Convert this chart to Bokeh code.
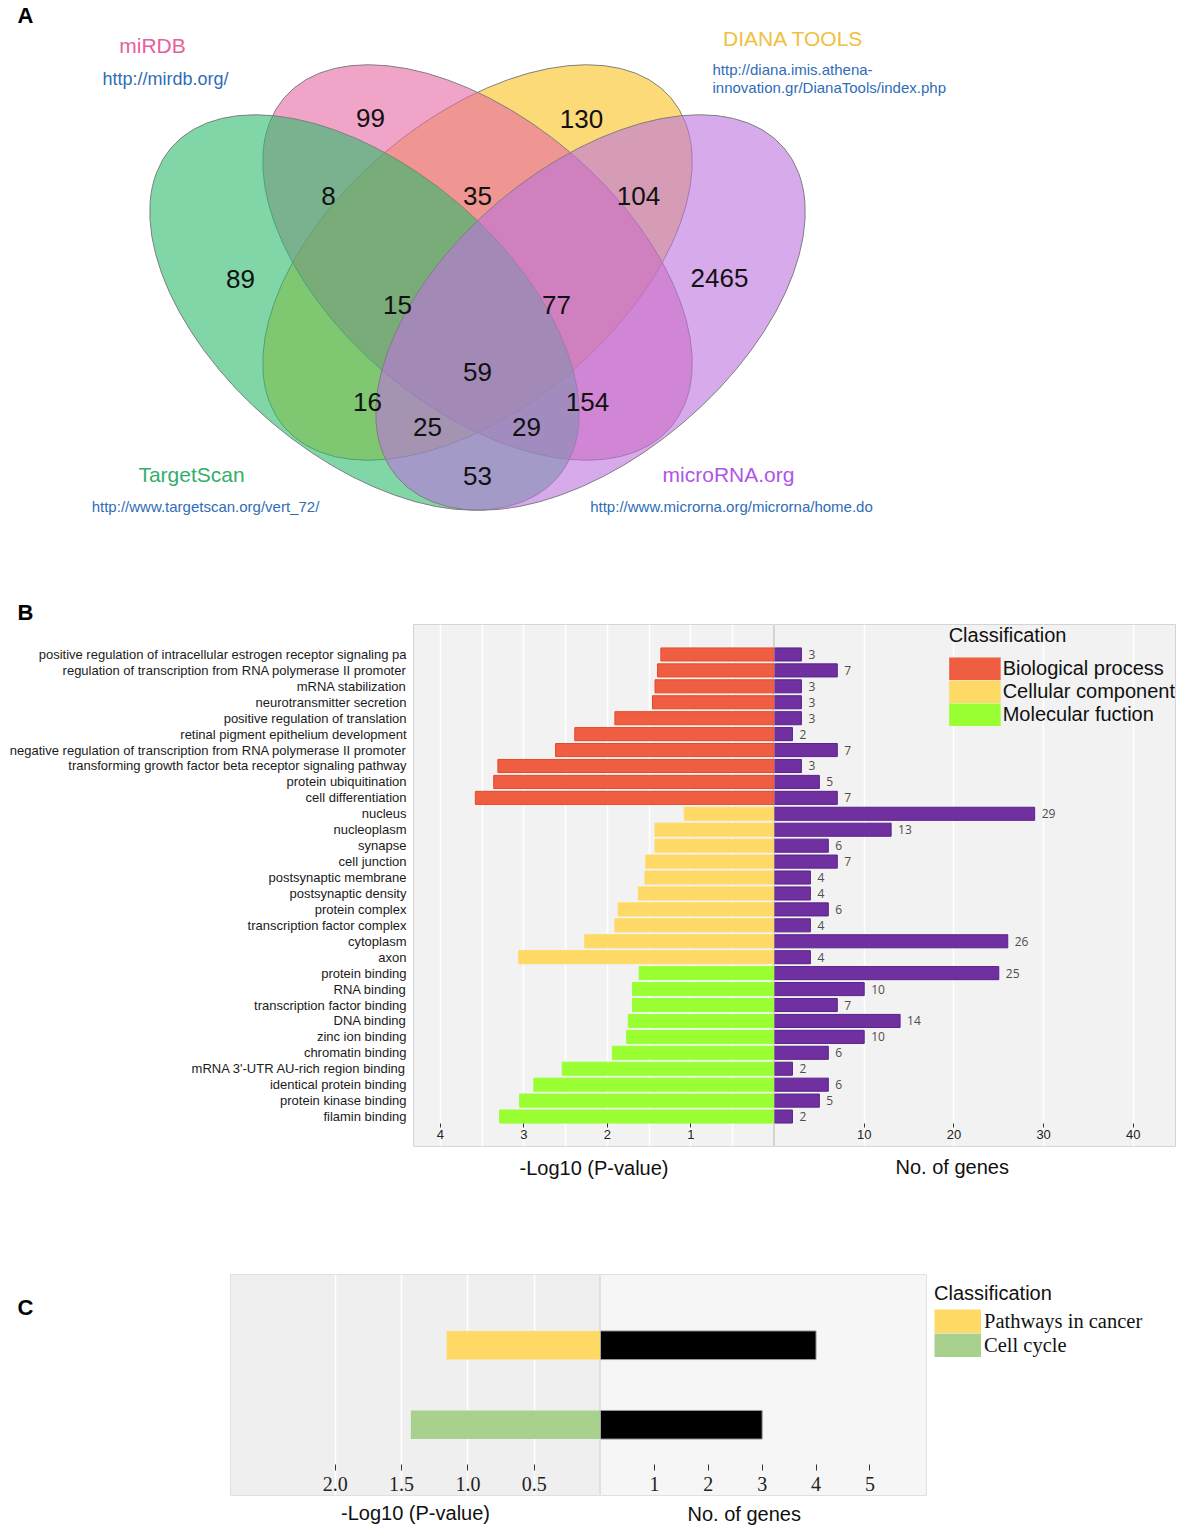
from bokeh.plotting import figure
from bokeh.models import (Range1d, FactorRange, ColumnDataSource, FixedTicker,
                          Legend, LegendItem, NumeralTickFormatter, LinearAxis,
                          CDSView, GroupFilter, Title)
from bokeh.layouts import column, row
from bokeh.embed import file_html
from bokeh.resources import INLINE
from bokeh.core.properties import value

SANS = "Liberation Sans"
SERIF = "Liberation Serif"

# ======================= DATA =======================
# Panel A - Venn diagram of predicted targets
venn_sets = ["TargetScan", "miRDB", "DIANA TOOLS", "microRNA.org"]
venn_urls = ["http://www.targetscan.org/vert_72/", "http://mirdb.org/",
             "http://diana.imis.athena-", "http://www.microrna.org/microrna/home.do"]
diana_url_line2 = "innovation.gr/DianaTools/index.php"
venn_region_names = ["TS", "miRDB", "DIANA", "microRNA", "TS&miRDB", "miRDB&DIANA",
                     "DIANA&microRNA", "TS&miRDB&DIANA", "miRDB&DIANA&microRNA", "all",
                     "TS&DIANA", "miRDB&microRNA", "TS&DIANA&microRNA",
                     "TS&miRDB&microRNA", "TS&microRNA"]
venn_region_counts = [89, 99, 130, 2465, 8, 35, 104, 15, 77, 59, 16, 154, 25, 29, 53]

# Panel B - GO enrichment
go_terms = [
    "positive regulation of intracellular estrogen receptor signaling pa",
    "regulation of transcription from RNA polymerase II promoter",
    "mRNA stabilization",
    "neurotransmitter secretion",
    "positive regulation of translation",
    "retinal pigment epithelium development",
    "negative regulation of transcription from RNA polymerase II promoter",
    "transforming growth factor beta receptor signaling pathway",
    "protein ubiquitination",
    "cell differentiation",
    "nucleus",
    "nucleoplasm",
    "synapse",
    "cell junction",
    "postsynaptic membrane",
    "postsynaptic density",
    "protein complex",
    "transcription factor complex",
    "cytoplasm",
    "axon",
    "protein binding",
    "RNA binding",
    "transcription factor binding",
    "DNA binding",
    "zinc ion binding",
    "chromatin binding",
    "mRNA 3'-UTR AU-rich region binding",
    "identical protein binding",
    "protein kinase binding",
    "filamin binding",
]
BP, CC, MF = "Biological process", "Cellular component", "Molecular fuction"
go_class = [BP, BP, BP, BP, BP, BP, BP, BP, BP, BP,
            CC, CC, CC, CC, CC, CC, CC, CC, CC, CC,
            MF, MF, MF, MF, MF, MF, MF, MF, MF, MF]
go_neglog10p = [1.36, 1.40, 1.43, 1.46, 1.91, 2.39, 2.62, 3.31, 3.36, 3.58,
                1.08, 1.43, 1.43, 1.54, 1.55, 1.63, 1.87, 1.91, 2.27, 3.06,
                1.62, 1.70, 1.70, 1.75, 1.77, 1.94, 2.54, 2.88, 3.05, 3.29]
go_genes = [3, 7, 3, 3, 3, 2, 7, 3, 5, 7,
            29, 13, 6, 7, 4, 4, 6, 4, 26, 4,
            25, 10, 7, 14, 10, 6, 2, 6, 5, 2]
go_classes = [BP, CC, MF]

# Panel C - KEGG pathways
kegg_terms = ["Pathways in cancer", "Cell cycle"]
kegg_neglog10p = [1.16, 1.43]
kegg_genes = [4, 3]

# ======================= STYLE / LAYOUT =======================
W = 1183
HA = 624                      # panel A canvas height (page y 0..624)

# Venn ellipses (draw order: DIANA, miRDB, TargetScan, microRNA.org)
ell_set = ["DIANA TOOLS", "miRDB", "TargetScan", "microRNA.org"]
ell_cx = [477, 477, 364, 590]
ell_cy = [262, 262, 312, 312]
ell_w = [508, 508, 508, 508]
ell_h = [288, 288, 288, 288]
ell_angle = [40.4, -40.4, -40.4, 40.4]
ell_color = ["#FCC11E", "#E669A3", "#2BBB6B", "#BC71DE"]

region_x = [240, 370, 581, 719, 328, 477, 638, 397, 556, 477, 367, 587, 427, 526, 477]
region_y = [278, 117, 118, 277, 195, 195, 195, 304, 304, 371, 401, 401, 426, 426, 475]

set_label_x = [191, 152, 793, 728]
set_label_y = [474, 45, 38, 474]
set_label_color = ["#33AE6C", "#E8609A", "#F0C040", "#B056E2"]
LINK = "#2F6DB8"

class_fill = {BP: "#F05E42", CC: "#FFD966", MF: "#99FF33"}
class_line = {BP: "#E5492C", CC: "#FFD966", MF: "#99FF33"}
kegg_fill = {"Pathways in cancer": "#FFD966", "Cell cycle": "#A9D18E"}


def title_axis(p, text, standoff):
    ax = LinearAxis(ticker=FixedTicker(ticks=[]), axis_label=text,
                    axis_line_color=None, major_tick_line_color=None,
                    minor_tick_line_color=None, major_tick_in=0, major_tick_out=0,
                    minor_tick_in=0, minor_tick_out=0, major_label_standoff=0,
                    axis_label_standoff=standoff, axis_label_text_font=SANS,
                    axis_label_text_font_size="20px",
                    axis_label_text_font_style="normal",
                    axis_label_text_color="#111111")
    p.add_layout(ax, "below")


def offset_title(p, text, offset, standoff):
    t = Title(text=text, align="left", offset=offset, vertical_align="bottom",
              standoff=standoff, text_font=SANS, text_font_size="20px",
              text_font_style="normal", text_color="#111111")
    p.add_layout(t, "below")


def style_tick_axis(ax, ticks, loc, font, size, tin, tout, standoff):
    ax.ticker = FixedTicker(ticks=ticks)
    ax.fixed_location = loc
    ax.axis_line_color = None
    ax.major_tick_in = tin
    ax.major_tick_out = tout
    ax.major_tick_line_color = "#333333"
    ax.minor_tick_line_color = None
    ax.major_label_standoff = standoff
    ax.major_label_text_font = font
    ax.major_label_text_font_size = size
    ax.major_label_text_color = "#222222"


# ======================= PANEL A =======================
pa = figure(width=W, height=HA, x_range=Range1d(0, W), y_range=Range1d(HA, 0),
            x_axis_type=None, y_axis_type=None, output_backend="svg",
            toolbar_location=None, min_border=0)
pa.outline_line_color = None
pa.background_fill_color = "white"

ell_src = ColumnDataSource(dict(x=ell_cx, y=ell_cy, w=ell_w, h=ell_h, a=ell_angle,
                                c=ell_color))
pa.ellipse(x="x", y="y", width="w", height="h", angle="a", angle_units="deg",
           width_units="screen", height_units="screen",
           fill_color="c", fill_alpha=0.6, line_color="#7f7f7f", line_width=1,
           source=ell_src)

pa.text(x=region_x, y=region_y, text=[str(v) for v in venn_region_counts],
        text_font=value(SANS), text_font_size="26px", text_align="center",
        text_baseline="middle", text_color="#111111")

pa.text(x=set_label_x, y=set_label_y, text=venn_sets, text_color=set_label_color,
        text_font=value(SANS), text_font_size="21px", text_align="center",
        text_baseline="middle")

# URLs
pa.text(x=[205, 165, 731], y=[506, 78, 506],
        text=[venn_urls[0], venn_urls[1], venn_urls[3]],
        text_font=value(SANS), text_font_size=["15px", "18px", "15px"],
        text_align="center", text_baseline="middle", text_color=LINK)
pa.text(x=[712, 712], y=[69, 87], text=[venn_urls[2], diana_url_line2],
        text_font=value(SANS), text_font_size="15px", text_align="left",
        text_baseline="middle", text_color=LINK)

# panel letters
pa.text(x=[25, 25], y=[15, 612], text=["A", "B"], text_font=value(SANS),
        text_font_size="22px", text_font_style="bold", text_align="center",
        text_baseline="middle", text_color="black")

# ======================= PANEL B =======================
yr_b = FactorRange(factors=list(reversed(go_terms)), range_padding=1.38,
                   range_padding_units="absolute")

src_b = ColumnDataSource(dict(
    term=go_terms, cls=go_class, p=go_neglog10p, n=go_genes,
    n_txt=[str(v) for v in go_genes],
    fill=[class_fill[c] for c in go_class],
    line=[class_line[c] for c in go_class]))

PANEL_B = "#F2F2F2"

pbl = figure(frame_width=361, frame_height=522, x_range=Range1d(4.32, 0),
             y_range=yr_b, output_backend="svg", toolbar_location=None,
             min_border_left=413, min_border_right=0, min_border_top=0,
             min_border_bottom=40)
pbl.background_fill_color = PANEL_B
pbl.border_fill_color = "white"
pbl.outline_line_color = "#D4D4D4"
pbl.hbar(y="term", left=0, right="p", height=0.82, fill_color="fill",
         line_color="line", line_width=1, source=src_b)
pbl.ygrid.visible = False
pbl.xgrid.ticker = FixedTicker(ticks=[0.5, 1, 1.5, 2, 2.5, 3, 3.5, 4])
pbl.xgrid.grid_line_color = "white"
pbl.xgrid.grid_line_width = 1.5

yax = pbl.yaxis[0]
yax.axis_line_color = None
yax.major_tick_line_color = None
yax.major_tick_out = 0
yax.major_tick_in = 0
yax.major_label_standoff = 7
yax.major_label_text_font = SANS
yax.major_label_text_font_size = "13px"
yax.major_label_text_color = "#1a1a1a"

style_tick_axis(pbl.xaxis[0], [1, 2, 3, 4], 0.05, SANS, "13px", 0, 4, 2)
title_axis(pbl, "-Log10 (P-value)", 10)

pbr = figure(frame_width=401, frame_height=522, x_range=Range1d(0, 44.7),
             y_range=yr_b, y_axis_location=None, output_backend="svg",
             toolbar_location=None, min_border_left=0, min_border_right=8,
             min_border_top=0, min_border_bottom=40)
pbr.background_fill_color = PANEL_B
pbr.border_fill_color = "white"
pbr.outline_line_color = "#D4D4D4"
pbr.hbar(y="term", left=0, right="n", height=0.82, fill_color="#7030A0",
         line_color="#58228A", line_width=1, source=src_b)
pbr.text(x="n", y="term", text="n_txt", x_offset=7, text_align="left",
         text_baseline="middle", text_font=value("Open Sans"),
         text_font_size="12px", text_color="#4d4d4d", source=src_b)
pbr.ygrid.visible = False
pbr.xgrid.ticker = FixedTicker(ticks=[10, 20, 30, 40])
pbr.xgrid.grid_line_color = "white"
pbr.xgrid.grid_line_width = 1.5

style_tick_axis(pbr.xaxis[0], [10, 20, 30, 40], 0.05, SANS, "13px", 0, 4, 2)
offset_title(pbr, "No. of genes", 121, 14)

items_b = []
for c in go_classes:
    r = pbr.segment(x0=0, y0="term", x1="n", y1="term", line_width=23,
                    line_color=class_fill[c], source=src_b,
                    view=CDSView(filter=GroupFilter(column_name="cls", group=c)),
                    visible=False)
    items_b.append(LegendItem(label=c, renderers=[r]))
leg_b = Legend(items=items_b, title="Classification", location="top_right",
               margin=0, padding=4, spacing=0, glyph_width=52, glyph_height=23,
               label_standoff=2, label_text_font=SANS, label_text_font_size="20px",
               label_text_color="#111111", title_text_font=SANS,
               title_text_font_size="20px", title_text_font_style="normal",
               title_text_color="#111111", title_standoff=10,
               background_fill_alpha=0, border_line_color=None,
               inactive_fill_alpha=0)
pbr.add_layout(leg_b)

# ======================= PANEL C =======================
C_TOP, C_FRAME, C_BOT = 88, 221, 32
HC = C_TOP + C_FRAME + C_BOT
Y0C = HA + 0 + 522 + 40        # page y where the C row starts

spc = figure(width=230, height=HC, x_range=Range1d(0, 230),
             y_range=Range1d(Y0C + HC, Y0C), x_axis_type=None, y_axis_type=None,
             output_backend="svg", toolbar_location=None, min_border=0)
spc.outline_line_color = None
spc.text(x=[25], y=[1237], text=["C"], text_font=value(SANS), text_font_size="22px",
         text_font_style="bold", text_align="center", text_baseline="middle",
         text_color="black")

yr_c = FactorRange(factors=list(reversed(kegg_terms)), range_padding=0.39,
                   range_padding_units="absolute")
src_c = ColumnDataSource(dict(term=kegg_terms, p=kegg_neglog10p, n=kegg_genes,
                              fill=[kegg_fill[t] for t in kegg_terms]))

pcl = figure(frame_width=370, frame_height=C_FRAME, x_range=Range1d(2.79, 0),
             y_range=yr_c, y_axis_location=None, output_backend="svg",
             toolbar_location=None, min_border_left=0, min_border_right=0,
             min_border_top=C_TOP, min_border_bottom=C_BOT)
pcl.background_fill_color = "#EFEFEF"
pcl.border_fill_color = "white"
pcl.outline_line_color = "#E0E0E0"
pcl.hbar(y="term", left=0, right="p", height=0.36, fill_color="fill",
         line_color=None, source=src_c)
pcl.ygrid.visible = False
pcl.xgrid.ticker = FixedTicker(ticks=[0.5, 1.0, 1.5, 2.0])
pcl.xgrid.grid_line_color = "white"
pcl.xgrid.grid_line_width = 1.5
style_tick_axis(pcl.xaxis[0], [0.5, 1.0, 1.5, 2.0], -0.04, SERIF, "20px", 3, 3, 6)
pcl.xaxis[0].formatter = NumeralTickFormatter(format="0.0")
title_axis(pcl, "-Log10 (P-value)", 6)

pcr = figure(frame_width=326, frame_height=C_FRAME, x_range=Range1d(0, 6.05),
             y_range=yr_c, y_axis_location=None, output_backend="svg",
             toolbar_location=None, min_border_left=0, min_border_right=257,
             min_border_top=C_TOP, min_border_bottom=C_BOT)
pcr.background_fill_color = "#F6F6F6"
pcr.border_fill_color = "white"
pcr.outline_line_color = "#E0E0E0"
pcr.hbar(y="term", left=0, right="n", height=0.36, fill_color="black",
         line_color="#9a9a9a", line_width=1, source=src_c)
pcr.ygrid.visible = False
pcr.xgrid.visible = False
style_tick_axis(pcr.xaxis[0], [1, 2, 3, 4, 5], -0.04, SERIF, "20px", 3, 3, 6)
offset_title(pcr, "No. of genes", 87, 10)

items_c = []
for t in kegg_terms:
    r = pcr.segment(x0=0, y0="term", x1="n", y1="term", line_width=24,
                    line_color=kegg_fill[t], source=src_c,
                    view=CDSView(filter=GroupFilter(column_name="term", group=t)),
                    visible=False)
    items_c.append(LegendItem(label=t, renderers=[r]))
leg_c = Legend(items=items_c, title="Classification", location="top_left",
               margin=8, padding=8, spacing=0, glyph_width=47, glyph_height=24,
               label_standoff=3, label_text_font=SERIF, label_text_font_size="20.5px",
               label_text_color="#111111", title_text_font=SANS,
               title_text_font_size="20px", title_text_font_style="normal",
               title_text_color="#111111", title_standoff=4,
               background_fill_alpha=0, border_line_color=None,
               inactive_fill_alpha=0)
pcr.add_layout(leg_c, "right")

layout = column(pa, row(pbl, pbr), row(spc, pcl, pcr))
open("out.html", "w").write(file_html(layout, INLINE))
